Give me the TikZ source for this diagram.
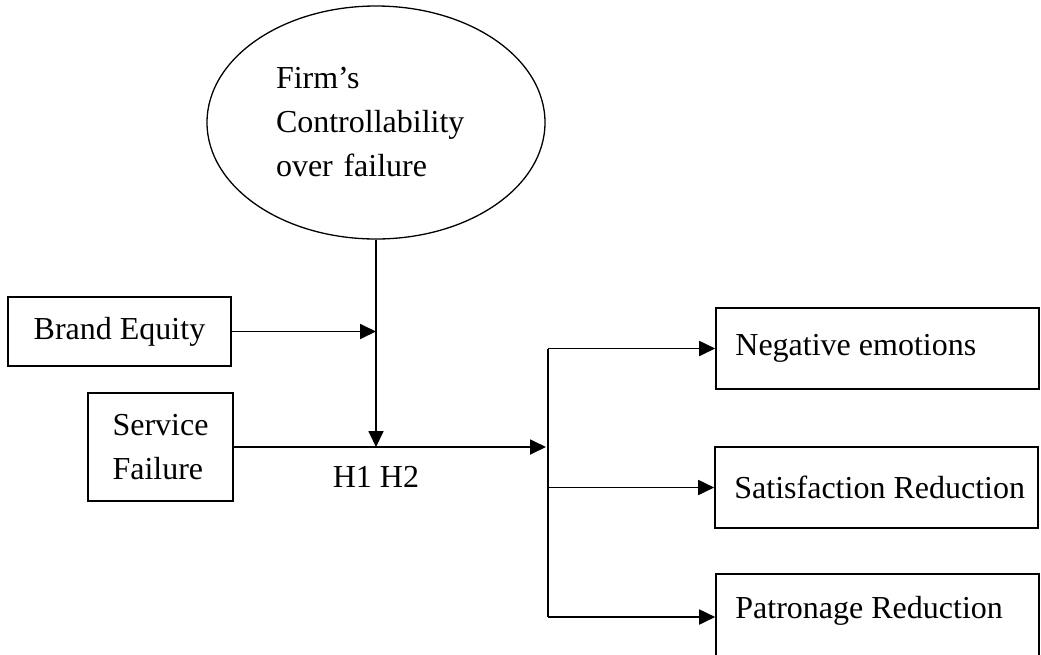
\documentclass[tikz,border=0pt]{standalone}
\usepackage{fontspec}
\setmainfont{Liberation Serif}
\usepackage{tikz}
\usetikzlibrary{arrows.meta, positioning, shapes.geometric, calc}

\begin{document}
\begin{tikzpicture}[x=1pt, y=-1pt,
    every node/.style={font=\fontsize{32}{44}\selectfont},
    box/.style={draw=black, line width=1.6pt, rectangle, inner sep=0pt},
    outbox/.style={box, minimum width=323, minimum height=81},
    outtext/.style={anchor=west, xshift=20, inner sep=0pt},
    link/.style={line width=1.8pt, -{Triangle[length=16pt, width=15pt]}},
    plain/.style={line width=1.8pt}]
    \useasboundingbox (0,0) rectangle (1041,654);

    % Moderator
    \node[ellipse, draw=black, line width=1.3pt, minimum width=338, minimum height=233,
          text width=200, align=left, inner sep=0pt] (ctrl) at (376,122.5)
          {Firm’s\\Controllability\\over failure};

    % Inputs
    \node[box, minimum width=223, minimum height=69] (brand) at (119.5,331.5) {Brand Equity};
    \node[box, minimum width=145, minimum height=108, align=left] (service) at (160.5,447) {Service\\Failure};
    \node (hyp) at (376,477) {H1 H2};

    % Outcomes (last box runs off the bottom edge)
    \node[outbox, label={[outtext]west:Negative emotions}] (neg) at (877.5,348.5) {};
    \node[outbox, label={[outtext]west:Satisfaction Reduction}] (sat) at (876.5,487.5) {};
    \node[outbox, minimum height=90, label={[outtext, yshift=8]west:Patronage Reduction}] (pat) at (877.5,619) {};

    \coordinate (split) at (548,447);

    % Connectors
    \draw[link] (brand.east) -- (brand.east -| ctrl.south);
    \draw[link] (ctrl.south) -- (ctrl.south |- service.east);
    \draw[link] (service.east) -- ($(split)+(-2,0)$);
    \draw[plain] (neg.west -| split) -- ($(pat.west -| split)+(0,-2)$);
    \draw[link] (neg.west -| split) -- (neg.west);
    \draw[link] (sat.west -| split) -- (sat.west);
    \draw[link] ($(pat.west -| split)+(0,-2)$) -- ($(pat.west)+(0,-2)$);
\end{tikzpicture}
\end{document}
